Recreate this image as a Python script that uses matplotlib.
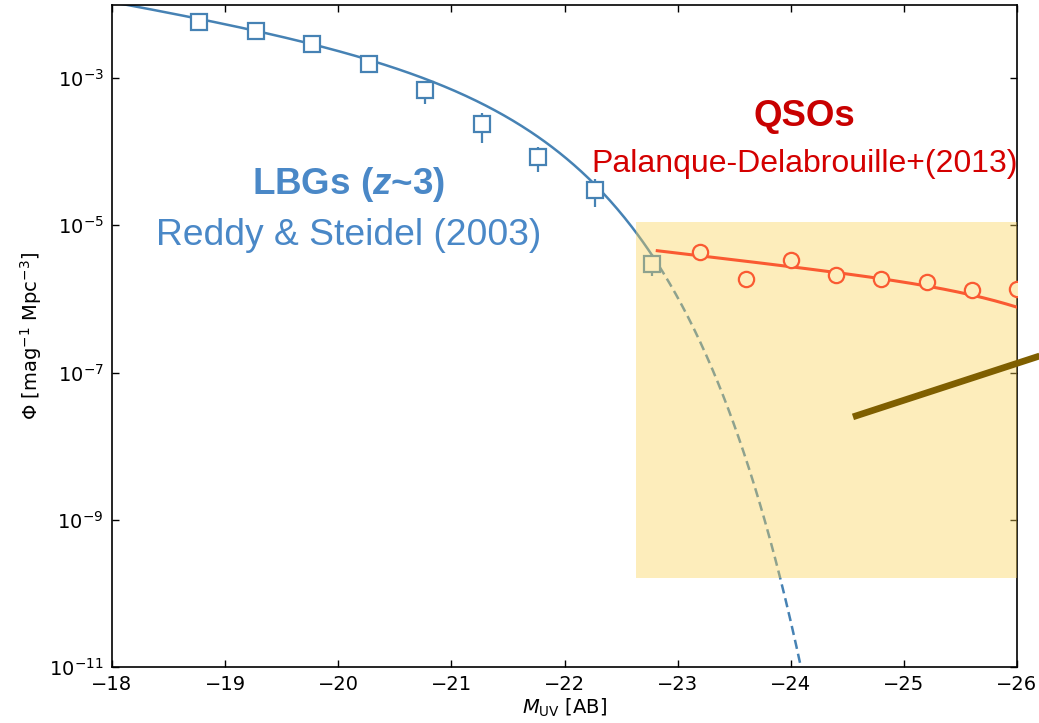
import numpy as np
import matplotlib
matplotlib.use("Agg")
import matplotlib.pyplot as plt
from matplotlib.patches import Rectangle

# --- LBG number densities at z~3 (Reddy & Steidel) ---
lbg_mag = [-18.77, -19.27, -19.77, -20.27, -20.77, -21.27, -21.77, -22.27, -22.77]
lbg_phi = [5.8e-3, 4.4e-3, 2.9e-3, 1.55e-3, 6.9e-4, 2.4e-4, 8.45e-5, 3.0e-5, 3.0e-6]
lbg_err_lo = [0.0, 0.0, 0.0, 0.0, 2.5e-4, 1.1e-4, 3.1e-5, 1.25e-5, 9.6e-7]
lbg_err_hi = [0.0, 0.0, 0.0, 0.0, 0.0, 1.0e-4, 3.2e-5, 1.25e-5, 0.0]

# Schechter fit to the LBG luminosity function
lbg_mstar = -21.0
lbg_phistar = 2.07e-3
lbg_alpha = -1.65

# --- QSO number densities (Palanque-Delabrouille et al.) ---
qso_mag = [-23.2, -23.6, -24.0, -24.4, -24.8, -25.2, -25.6, -26.0]
qso_phi = [4.3e-6, 1.86e-6, 3.4e-6, 2.1e-6, 1.86e-6, 1.69e-6, 1.32e-6, 1.36e-6]

# double power-law fit to the QSO luminosity function
qso_mstar = -26.3
qso_phistar = 1.07e-6
qso_alpha = -3.5
qso_beta = -1.45

# shaded survey window and its limiting line
window_mag = [-22.63, -26.0]
window_phi = [1.63e-10, 1.1e-5]
limit_mag = [-24.55, -26.2]
limit_phi = [2.5e-8, 1.68e-7]

xticks = [-18, -19, -20, -21, -22, -23, -24, -25, -26]
yticks = [1e-11, 1e-9, 1e-7, 1e-5, 1e-3]

BLUE = "#4682b4"
TEXT_BLUE = "#4a88c7"
RED = "#fa5a32"
WINDOW = "#fcd355"


def schechter(m, mstar, phistar, alpha):
    x = 10 ** (0.4 * (mstar - m))
    return 0.4 * np.log(10) * phistar * x ** (alpha + 1) * np.exp(-x)


def double_power_law(m, mstar, phistar, alpha, beta):
    d = m - mstar
    return phistar / (10 ** (0.4 * (alpha + 1) * d) + 10 ** (0.4 * (beta + 1) * d))


plt.rcParams["font.family"] = ["DejaVu Sans"]
plt.rcParams["mathtext.it"] = "Liberation Sans:italic:bold"

fig = plt.figure(figsize=(10.39, 7.23), dpi=100)
ax = fig.add_axes([112 / 1039, 1 - 667 / 723, 905 / 1039, 662.5 / 723])

# LBG Schechter curve: solid over the measured range, dashed beyond it
m_solid = np.linspace(-18.0, lbg_mag[-1], 300)
m_dash = np.linspace(lbg_mag[-1], -24.3, 200)
ax.plot(m_solid, schechter(m_solid, lbg_mstar, lbg_phistar, lbg_alpha),
        color=BLUE, lw=1.8, zorder=2)
ax.plot(m_dash, schechter(m_dash, lbg_mstar, lbg_phistar, lbg_alpha),
        color=BLUE, lw=1.8, dashes=(3.7, 2.0), zorder=2)

ax.errorbar(lbg_mag, lbg_phi, yerr=[lbg_err_lo, lbg_err_hi], fmt="s",
            ms=11, mew=1.6, mfc="white", mec=BLUE, ecolor=BLUE,
            elinewidth=1.6, capsize=0, zorder=3)

# survey window
ax.add_patch(Rectangle((window_mag[0], window_phi[0]),
                       window_mag[1] - window_mag[0],
                       window_phi[1] - window_phi[0],
                       facecolor=WINDOW, alpha=0.4, edgecolor="none", zorder=4))

# QSO luminosity function
m_qso = np.linspace(-22.82, -26.2, 300)
ax.plot(m_qso, double_power_law(m_qso, qso_mstar, qso_phistar, qso_alpha, qso_beta),
        color=RED, lw=2.2, zorder=5)
ax.plot(qso_mag, qso_phi, "o", ms=11, mew=1.6, mfc="#fdedbb", mec=RED, zorder=6)

# limiting line
ax.plot(limit_mag, limit_phi, color="#7f5f00", lw=4.8, solid_capstyle="butt",
        clip_on=False, zorder=7)

# annotations
ax.text(-20.09, 10 ** -4.576, r"LBGs ($z$~3)", color=TEXT_BLUE, fontsize=26.5,
        fontweight="bold", family="Liberation Sans", math_fontfamily="custom",
        ha="center", va="baseline", zorder=8)
ax.text(-20.09, 10 ** -5.269, "Reddy & Steidel (2003)", color=TEXT_BLUE,
        fontsize=26.8, family="Liberation Sans", ha="center", va="baseline", zorder=8)
ax.text(-24.12, 10 ** -3.652, "QSOs", color="#c80000", fontsize=26.4,
        fontweight="bold", family="Liberation Sans", ha="center", va="baseline", zorder=8)
ax.text(-24.12, 10 ** -4.273, "Palanque-Delabrouille+(2013)", color="#d40000",
        fontsize=23, family="Liberation Sans", ha="center", va="baseline", zorder=8)

ax.set_yscale("log")
ax.set_xlim(-18, -26)
ax.set_ylim(1e-11, 1e-2)
ax.set_xticks(xticks)
ax.set_yticks(yticks)
ax.minorticks_off()
ax.tick_params(direction="in", top=True, right=True, length=5, width=1.0,
               labelsize=14, pad=6)
for s in ax.spines.values():
    s.set_linewidth(1.2)

ax.set_xlabel(r"$M_{\rm UV}$ [AB]", fontsize=14, labelpad=2)
ax.set_ylabel(r"$\Phi$ [mag$^{-1}$ Mpc$^{-3}$]", fontsize=14)

fig.savefig("out.png", dpi=100)
